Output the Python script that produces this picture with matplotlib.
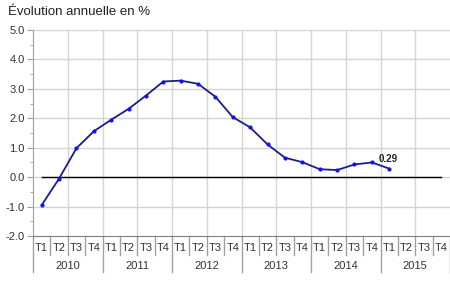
import matplotlib.pyplot as plt
import matplotlib.transforms as mtransforms
import numpy as np

years = ["2010", "2011", "2012", "2013", "2014", "2015"]
quarters = ["T1", "T2", "T3", "T4"]
values = [-0.95, -0.05, 0.98, 1.56, 1.95, 2.32, 2.77, 3.25,
          3.28, 3.17, 2.73, 2.04, 1.69, 1.11, 0.66, 0.51,
          0.27, 0.24, 0.43, 0.50, 0.29]
last_label = "0.29"

plt.rcParams["font.family"] = ["Liberation Sans", "DejaVu Sans"]

n_q = len(years) * len(quarters)
x = np.arange(len(values))

fig = plt.figure(figsize=(4.5, 2.91), dpi=100)
ax = fig.add_axes([33 / 450, 1 - 236 / 291, 1 - 33 / 450, (236 - 30) / 291])

ax.set_xlim(-0.5, n_q - 0.5)
ax.set_ylim(-2, 5)

# grid
for gx in np.arange(1.5, n_q - 0.5, 2):
    ax.axvline(gx, color="#d4d4d4", lw=1, zorder=0)
for gy in range(-1, 6):
    ax.axhline(gy, color="#d4d4d4", lw=1, zorder=0)

ax.plot([0, n_q - 1], [0, 0], color="black", lw=1, zorder=2)
ax.plot(x, values, color="#1c1c8a", lw=1.3, zorder=3)
ax.plot(x, values, "o", color="#1010ff", ms=2.0, zorder=4)
ax.annotate(last_label, (x[-1], values[-1]), xytext=(-1, 3.5),
            textcoords="offset points", ha="center", va="bottom",
            fontsize=7, fontweight="bold", color="#222222")

for s in ["top", "right"]:
    ax.spines[s].set_visible(False)
ax.spines["left"].set_color("#a0a0a0")
ax.spines["bottom"].set_color("#808080")

ax.set_yticks(range(-2, 6))
ax.set_yticklabels([f"{v:.1f}" for v in range(-2, 6)])
ax.set_yticks(np.arange(-1.5, 5, 1), minor=True)
ax.tick_params(axis="y", which="major", length=4, color="#a0a0a0",
               labelsize=8, labelcolor="#333333", pad=2)
ax.tick_params(axis="y", which="minor", length=2, color="#a0a0a0")

ax.set_xticks(np.arange(n_q))
ax.set_xticklabels(quarters * len(years))
ax.tick_params(axis="x", length=0, labelsize=8, labelcolor="#333333", pad=5)

trans = mtransforms.blended_transform_factory(ax.transData, fig.transFigure)
for b in range(n_q + 1):
    bx = b - 0.5
    y_end = 1 - 272 / 291 if b % 4 == 0 else 1 - 255 / 291
    ax.plot([bx, bx], [1 - 236 / 291, y_end], transform=trans,
            color="#a0a0a0", lw=1, clip_on=False)
for i, yr in enumerate(years):
    ax.text(i * 4 + 1.5, 1 - 266 / 291, yr, transform=trans, ha="center",
            va="center", fontsize=8, color="#333333")

fig.text(8 / 450, 1 - 12 / 291, "Évolution annuelle en %", ha="left",
         va="center", fontsize=9.5, color="#222222")

fig.savefig("out.png", dpi=100)
